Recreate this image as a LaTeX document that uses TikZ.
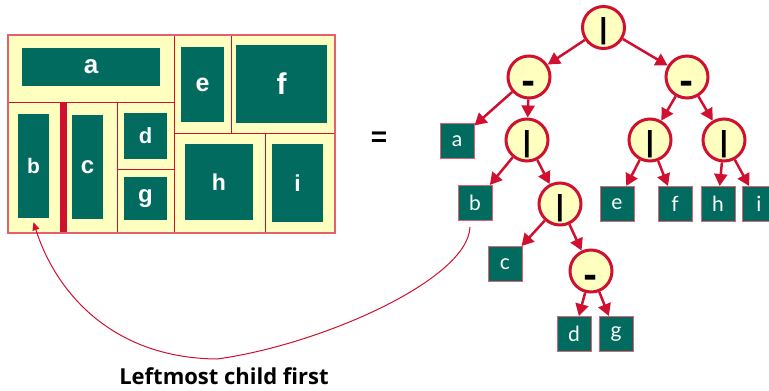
\documentclass[tikz,border=0pt]{standalone}
\usepackage{fontspec}
\setmainfont{Lato}
\newfontfamily\panelfont{Liberation Sans}
\newfontfamily\dashfont{DejaVu Sans}
\newfontfamily\capfont{Open Sans}
\usetikzlibrary{arrows.meta,calc}
\definecolor{cellyellow}{RGB}{255,255,192}
\definecolor{boxgreen}{RGB}{0,107,94}
\definecolor{splitred}{RGB}{208,16,48}
\definecolor{edgepink}{RGB}{226,96,112}
\begin{document}
\begin{tikzpicture}[x=1pt,y=-1pt,
  win/.style={fill=boxgreen, text=white, inner sep=0pt, font=\panelfont\bfseries\fontsize{#1}{#1}\selectfont},
  op/.style={circle, fill=cellyellow, draw=splitred, line width=3pt, minimum size=42pt, inner sep=0pt},
  vcut/.style={op, text height=28pt, text depth=6pt, font=\panelfont\bfseries\fontsize{29}{29}\selectfont},
  hcut/.style={op, text height=33pt, text depth=0pt, font=\dashfont\bfseries\fontsize{34}{34}\selectfont},
  leaf/.style={fill=boxgreen, draw=edgepink, line width=1pt, minimum width=34pt, minimum height=35pt, inner sep=0pt, text=white, font=\fontsize{21}{21}\selectfont},
  edge/.style={draw=splitred, line width=2.5pt, -{Triangle[length=12pt,width=13pt]}},
  back/.style={draw=splitred, line width=1pt, -{Triangle[length=8pt,width=7pt]}}]
\useasboundingbox (0,0) rectangle (769,391);
% the screen and its cuts
\fill[cellyellow] (8,35) rectangle (335,233);
\fill[splitred] (60,102) rectangle (67,233);
\draw[splitred, line width=1pt] (8,102) -- (174,102) (174,35) -- (174,233)
  (117,102) -- (117,233) (117,169) -- (174,169)
  (231,35) -- (231,133) (174,133) -- (335,133) (265,133) -- (265,233);
\draw[edgepink, line width=1.5pt] (8,35) rectangle (335,233);
% the windows
\foreach \n/\x/\y/\w/\h/\s in {a/91/67/138/38/26, b/33.5/166/31/104/21, c/87.5/167/31/104/24,
    d/145.5/136/43/46/22, g/145.5/198.5/43/43/24, e/202.5/84.5/43/75/25,
    f/281.5/84/91/78/30, h/219/182/68/76/23, i/297.5/183/51/78/23}
  \node[win=\s, minimum width=\w pt, minimum height=\h pt] (p\n) at (\x,\y) {\n};
\node[font=\panelfont\bfseries\fontsize{28}{28}\selectfont] (eq) at (379,139) {=};
% the tree
\node[vcut] (r) at (603.5,27.5) {|};
\node[hcut] (m1) at (529,77) {-};
\node[hcut] (m2) at (687,77) {-};
\node[vcut] (v1) at (527,140) {|};
\node[vcut] (v2) at (650,140) {|};
\node[vcut] (v3) at (724,140) {|};
\node[vcut] (v4) at (560,204) {|};
\node[hcut] (m3) at (591,271) {-};
\foreach \n/\x/\y in {a/457/141, b/475/203, e/617/204, f/675/204, h/718/204,
    i/759/204, c/505/264, d/574/334, g/616/334}
  \node[leaf] (t\n) at (\x,\y) {\n};
\foreach \p/\c in {r/m1, r/m2, m1/ta, m1/v1, v1/tb, v1/v4, v4/tc, v4/m3,
    m3/td, m3/tg, m2/v2, m2/v3, v2/te, v2/tf, v3/th, v3/ti}
  \draw[edge] (\p) -- (\c);
% back to the screen
\coordinate (dip) at (217,359);
\draw[back] ($(tb.south)+(-5,6)$) .. controls (468,280) and (320,345) .. (dip)
  .. controls (110,358) and (55,290) .. ($(pb.south)+(0,4)$);
\node[inner sep=0pt, font=\capfont\bfseries\fontsize{22}{22}\selectfont] (cap) at (224,376) {Leftmost child first};
\end{tikzpicture}
\end{document}
